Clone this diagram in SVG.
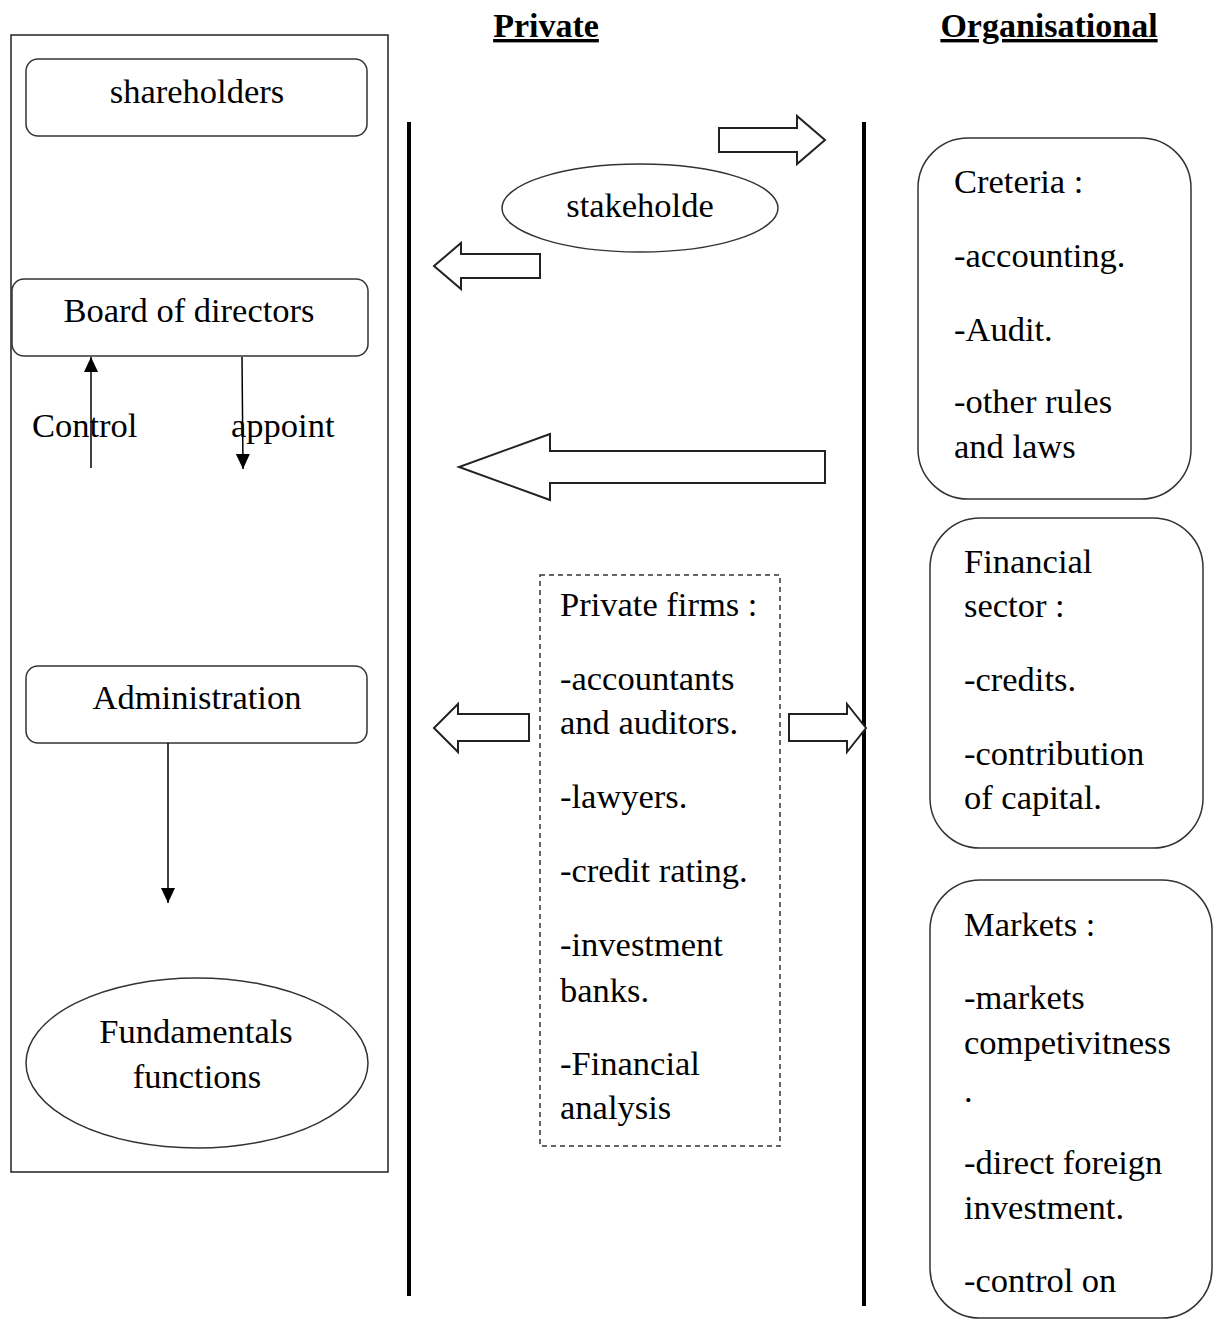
<svg xmlns="http://www.w3.org/2000/svg" width="1214" height="1320" viewBox="0 0 1214 1320">
<style>
text{font-family:"Liberation Serif","Times New Roman",serif;font-size:34.5px;fill:#000}
.c{text-anchor:middle}
.t{font-weight:bold;font-size:34px;text-decoration:underline}
.box{fill:#fff;stroke:#333;stroke-width:1.5}
.blk{fill:#fff;stroke:#222;stroke-width:2}
.ln{stroke:#000;stroke-width:1.5;fill:none}
.bar{stroke:#000;stroke-width:4}
</style>
<defs>
<marker id="ah" viewBox="0 0 15 14" refX="15" refY="7" markerWidth="15" markerHeight="14" markerUnits="userSpaceOnUse" orient="auto">
<path d="M0,0 L15,7 L0,14 Z" fill="#000"/>
</marker>
</defs>
<rect width="1214" height="1320" fill="#fff"/>
<text class="c t" x="546" y="37">Private</text>
<text class="c t" x="1049" y="37">Organisational</text>
<g id="frame"><rect x="11" y="35" width="377" height="1137" fill="none" stroke="#222" stroke-width="1.5"/></g>
<g id="shareholders"><rect class="box" x="26" y="59" width="341" height="77" rx="12"/><text class="c" x="197" y="103">shareholders</text></g>
<g id="board"><rect class="box" x="12" y="279" width="356" height="77" rx="12"/><text class="c" x="189" y="322">Board of directors</text></g>
<g id="control-label"><text x="32" y="437">Control</text></g>
<g id="appoint-label"><text x="231" y="437">appoint</text></g>
<g id="administration"><rect class="box" x="26" y="666" width="341" height="77" rx="12"/><text class="c" x="197" y="709">Administration</text></g>
<g id="fundamentals"><ellipse class="box" cx="197" cy="1063" rx="171" ry="85"/><text class="c" x="196" y="1043">Fundamentals</text><text class="c" x="197" y="1088">functions</text></g>
<g id="stakeholder"><ellipse class="box" cx="640" cy="208" rx="138" ry="44"/><text class="c" x="640" y="217">stakeholde</text></g>
<g id="private-firms"><rect x="540" y="575" width="240" height="571" fill="none" stroke="#333" stroke-width="1.5" stroke-dasharray="5,4"/>
<text x="560" y="616">Private firms :</text>
<text x="560" y="690">-accountants</text>
<text x="560" y="734">and auditors.</text>
<text x="560" y="808">-lawyers.</text>
<text x="560" y="882">-credit rating.</text>
<text x="560" y="956">-investment</text>
<text x="560" y="1002">banks.</text>
<text x="560" y="1075">-Financial</text>
<text x="560" y="1119">analysis</text>
</g>
<g id="criteria"><rect class="box" x="918" y="138" width="273" height="361" rx="50"/>
<text x="954" y="193">Creteria :</text>
<text x="954" y="267">-accounting.</text>
<text x="954" y="341">-Audit.</text>
<text x="954" y="413">-other rules</text>
<text x="954" y="458">and laws</text>
</g>
<g id="financial"><rect class="box" x="930" y="518" width="273" height="330" rx="50"/>
<text x="964" y="573">Financial</text>
<text x="964" y="617">sector :</text>
<text x="964" y="691">-credits.</text>
<text x="964" y="765">-contribution</text>
<text x="964" y="809">of capital.</text>
</g>
<g id="markets"><rect class="box" x="930" y="880" width="282" height="438" rx="50"/>
<text x="964" y="936">Markets :</text>
<text x="964" y="1009">-markets</text>
<text x="964" y="1054">competivitness</text>
<text x="964" y="1102">.</text>
<text x="964" y="1174">-direct foreign</text>
<text x="964" y="1219">investment.</text>
<text x="964" y="1292">-control on</text>
</g>
<g id="connectors">
<line class="bar" x1="409" y1="122" x2="409" y2="1296"/>
<line class="bar" x1="864" y1="122" x2="864" y2="1306"/>
<line class="ln" x1="91" y1="468" x2="91" y2="357" marker-end="url(#ah)"/>
<line class="ln" x1="242" y1="357" x2="243" y2="469" marker-end="url(#ah)"/>
<line class="ln" x1="168" y1="743" x2="168" y2="903" marker-end="url(#ah)"/>
<path class="blk" d="M719,128 L797,128 L797,116 L825,140 L797,164 L797,152 L719,152 Z"/>
<path class="blk" d="M540,254 L461,254 L461,243 L434,266 L461,289 L461,278 L540,278 Z"/>
<path class="blk" d="M825,451 L550,451 L550,434 L459,467 L550,500 L550,483 L825,483 Z"/>
<path class="blk" d="M529,714 L458,714 L458,704 L434,728 L458,752 L458,741 L529,741 Z"/>
<path class="blk" d="M789,714 L847,714 L847,704 L866,728 L847,752 L847,741 L789,741 Z"/>
</g>
</svg>
